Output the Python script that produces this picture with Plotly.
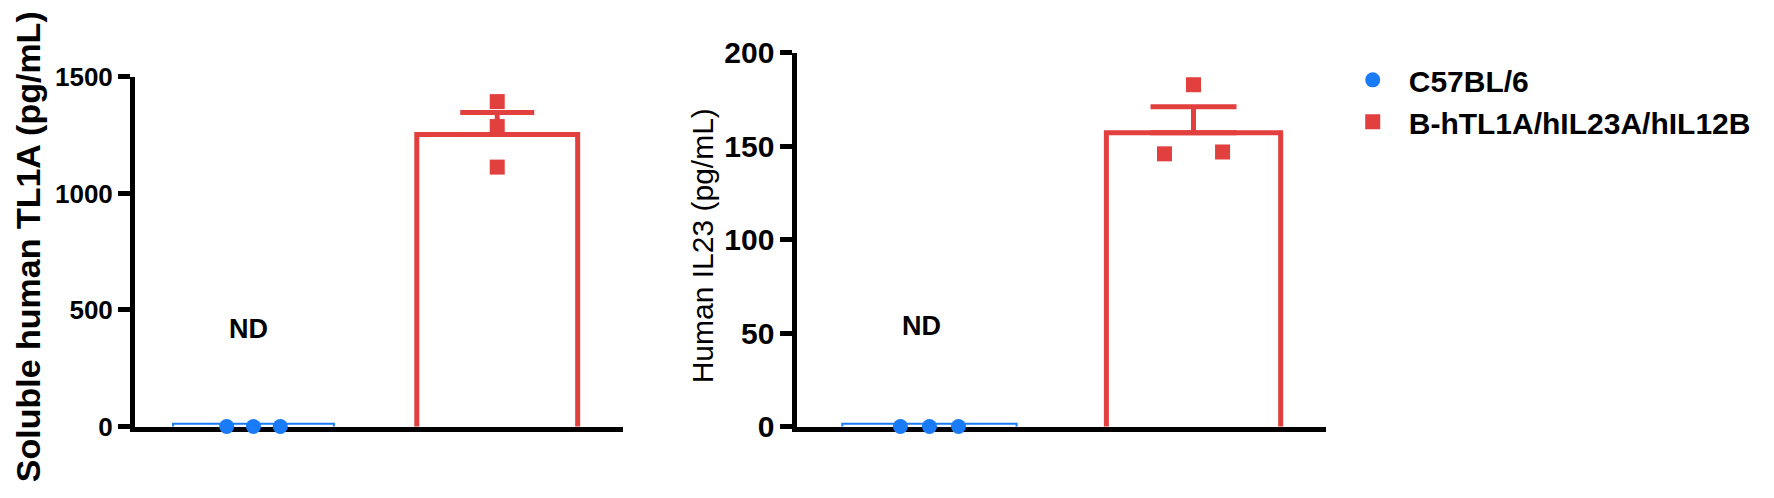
import plotly.graph_objects as go

W, H = 1774, 498

GROUPS = ["C57BL/6", "B-hTL1A/hIL23A/hIL12B"]
BLUE = "#1A7BF7"
RED = "#E23F3F"
FONT = "Arial, Liberation Sans"

# soluble human TL1A (pg/mL)
TL1A_MEAN = [12, 1253]
TL1A_SEM = [0, 94]
TL1A_WT = [0, 0, 0]
TL1A_HU = [1394, 1287, 1113]

# human IL23 (pg/mL)
IL23_MEAN = [1.5, 157.3]
IL23_SEM = [0, 13.9]
IL23_WT = [0, 0, 0]
IL23_HU = [183, 146, 147]

# horizontal spread of the dots inside each column
WT_SPREAD = [-0.11, 0, 0.11]
TL1A_HU_SPREAD = [0, 0, 0]
IL23_HU_SPREAD = [0, -0.11, 0.11]

fig = go.Figure()


def add_panel(fig, xa, ya, mean, sem, wt, hu, hu_spread, base, cap, legend):
    # bars start below the visible range so their bottom edge gets clipped
    fig.add_trace(go.Bar(
        x=[0], y=[mean[0] - base], base=base, width=0.66,
        marker=dict(color="rgba(0,0,0,0)", line=dict(color=BLUE, width=2)),
        xaxis=xa, yaxis=ya, showlegend=False, hoverinfo="skip",
    ))
    fig.add_trace(go.Bar(
        x=[1], y=[mean[1] - base], base=base, width=0.66,
        marker=dict(color="rgba(0,0,0,0)", line=dict(color=RED, width=5)),
        xaxis=xa, yaxis=ya, showlegend=False, hoverinfo="skip",
    ))
    fig.add_trace(go.Scatter(
        x=[1], y=[mean[1]], mode="markers", marker=dict(size=1, opacity=0),
        error_y=dict(type="data", symmetric=False, array=[sem[1]], arrayminus=[0],
                     color=RED, thickness=5, width=cap),
        xaxis=xa, yaxis=ya, showlegend=False, hoverinfo="skip",
    ))
    fig.add_trace(go.Scatter(
        x=[0 + d for d in WT_SPREAD], y=wt, mode="markers", name=GROUPS[0],
        marker=dict(symbol="circle", size=15, color=BLUE),
        cliponaxis=False, xaxis=xa, yaxis=ya, showlegend=legend,
        legendgroup="a",
    ))
    fig.add_trace(go.Scatter(
        x=[1 + d for d in hu_spread], y=hu, mode="markers", name=GROUPS[1],
        marker=dict(symbol="square", size=15, color=RED),
        cliponaxis=False, xaxis=xa, yaxis=ya, showlegend=legend,
        legendgroup="b",
    ))


add_panel(fig, "x", "y", TL1A_MEAN, TL1A_SEM, TL1A_WT, TL1A_HU, TL1A_HU_SPREAD, -100, 37, True)
add_panel(fig, "x2", "y2", IL23_MEAN, IL23_SEM, IL23_WT, IL23_HU, IL23_HU_SPREAD, -20, 43, False)

xstyle = dict(showline=True, linecolor="black", linewidth=5,
              showticklabels=False, ticks="", showgrid=False, zeroline=False,
              layer="below traces", fixedrange=True)
ystyle = dict(showline=True, linecolor="black", linewidth=5, ticks="outside",
              ticklen=12, tickwidth=5, tickcolor="black", showgrid=False,
              zeroline=False, layer="below traces")

fig.update_layout(
    width=W, height=H,
    margin=dict(l=0, r=0, t=0, b=0),
    paper_bgcolor="white", plot_bgcolor="white",
    barmode="overlay",
    xaxis=dict(domain=[0.0716, 0.3464], range=[-0.486, 1.514], **xstyle),
    yaxis=dict(domain=[0.1365, 0.8884], range=[0, 1500], tickvals=[0, 500, 1000, 1500],
               tickfont=dict(family=FONT, size=26, color="black", weight="bold"), **ystyle),
    xaxis2=dict(domain=[0.4450, 0.7427], range=[-0.5, 1.5], anchor="y2", **xstyle),
    yaxis2=dict(domain=[0.1365, 0.9398], range=[0, 200], tickvals=[0, 50, 100, 150, 200],
                anchor="x2",
                tickfont=dict(family=FONT, size=30, color="black", weight="bold"), **ystyle),
    legend=dict(x=0.749, y=0.938, xanchor="left", yanchor="top",
                font=dict(family=FONT, size=30, color="black", weight="bold"),
                itemwidth=62, tracegroupgap=0, bgcolor="rgba(0,0,0,0)"),
)

fig.add_annotation(x=-0.02, y=420, xref="x", yref="y", text="ND", showarrow=False,
                   font=dict(family=FONT, size=27, color="black", weight="bold"))
fig.add_annotation(x=-0.03, y=54, xref="x2", yref="y2", text="ND", showarrow=False,
                   font=dict(family=FONT, size=27, color="black", weight="bold"))

fig.add_annotation(x=20 / W, y=1 - 238 / H, xref="paper", yref="paper",
                   xanchor="center", yanchor="middle",
                   text="Soluble human TL1A (pg/mL)", textangle=-90, showarrow=False,
                   font=dict(family=FONT, size=34, color="black", weight="bold"))
fig.add_annotation(x=694 / W, y=1 - 237 / H, xref="paper", yref="paper",
                   xanchor="center", yanchor="middle",
                   text="Human IL23 (pg/mL)", textangle=-90, showarrow=False,
                   font=dict(family=FONT, size=30, color="black"))

fig.write_html("out.html")
